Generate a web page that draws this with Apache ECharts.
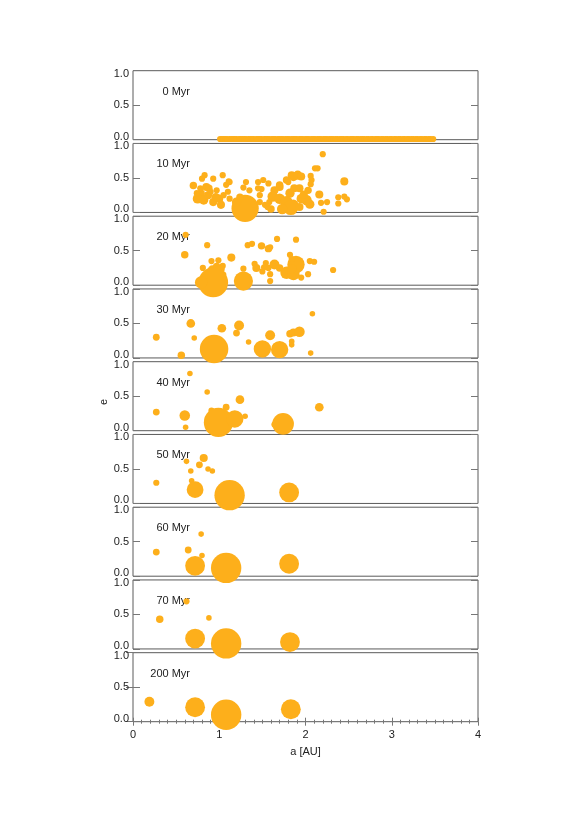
<!DOCTYPE html>
<html>
<head>
<meta charset="utf-8">
<title>Embryo a-e evolution</title>
<script src="https://cdn.jsdelivr.net/npm/echarts@6/dist/echarts.min.js"></script>
<style>
html, body { margin: 0; padding: 0; background: #fff; }
#chart { width: 581px; height: 823px; }
</style>
</head>
<body>
<div id="chart"></div>
<script>
// snapshot labels, one panel each
const times = ['0 Myr', '10 Myr', '20 Myr', '30 Myr', '40 Myr', '50 Myr', '60 Myr', '70 Myr', '200 Myr']

// bodies: [a (AU), e, relative radius]
const p0 = [
    [1.01,0.01,1],[1.03,0.01,1],[1.05,0.01,1],[1.07,0.01,1],[1.09,0.01,1],[1.12,0.01,1],[1.14,0.01,1],[1.16,0.01,1],
    [1.18,0.01,1],[1.20,0.01,1],[1.23,0.01,1],[1.25,0.01,1],[1.27,0.01,1],[1.29,0.01,1],[1.31,0.01,1],[1.34,0.01,1],
    [1.36,0.01,1],[1.38,0.01,1],[1.40,0.01,1],[1.43,0.01,1],[1.45,0.01,1],[1.47,0.01,1],[1.49,0.01,1],[1.52,0.01,1],
    [1.54,0.01,1],[1.56,0.01,1],[1.58,0.01,1],[1.61,0.01,1],[1.63,0.01,1],[1.65,0.01,1],[1.68,0.01,1],[1.70,0.01,1],
    [1.72,0.01,1],[1.74,0.01,1],[1.77,0.01,1],[1.79,0.01,1],[1.81,0.01,1],[1.84,0.01,1],[1.86,0.01,1],[1.88,0.01,1],
    [1.90,0.01,1],[1.93,0.01,1],[1.95,0.01,1],[1.97,0.01,1],[2.00,0.01,1],[2.02,0.01,1],[2.04,0.01,1],[2.07,0.01,1],
    [2.09,0.01,1],[2.11,0.01,1],[2.14,0.01,1],[2.16,0.01,1],[2.18,0.01,1],[2.21,0.01,1],[2.23,0.01,1],[2.25,0.01,1],
    [2.28,0.01,1],[2.30,0.01,1],[2.32,0.01,1],[2.35,0.01,1],[2.37,0.01,1],[2.40,0.01,1],[2.42,0.01,1],[2.44,0.01,1],
    [2.47,0.01,1],[2.49,0.01,1],[2.52,0.01,1],[2.54,0.01,1],[2.56,0.01,1],[2.59,0.01,1],[2.61,0.01,1],[2.64,0.01,1],
    [2.66,0.01,1],[2.68,0.01,1],[2.71,0.01,1],[2.73,0.01,1],[2.76,0.01,1],[2.78,0.01,1],[2.81,0.01,1],[2.83,0.01,1],
    [2.85,0.01,1],[2.88,0.01,1],[2.90,0.01,1],[2.93,0.01,1],[2.95,0.01,1],[2.98,0.01,1],[3.00,0.01,1],[3.03,0.01,1],
    [3.05,0.01,1],[3.08,0.01,1],[3.10,0.01,1],[3.13,0.01,1],[3.15,0.01,1],[3.18,0.01,1],[3.20,0.01,1],[3.23,0.01,1],
    [3.25,0.01,1],[3.28,0.01,1],[3.30,0.01,1],[3.33,0.01,1],[3.35,0.01,1],[3.38,0.01,1],[3.40,0.01,1],[3.43,0.01,1],
    [3.45,0.01,1],[3.48,0.01,1]
]
const p10 = [
    [0.70,0.39,1.2],[0.83,0.54,1],[0.80,0.49,1],[0.93,0.49,1],[1.04,0.54,1],[1.11,0.45,1],[1.08,0.40,1],
    [0.85,0.37,1.3],[0.88,0.35,1.2],[0.79,0.28,1.2],[0.75,0.20,1.6],[0.82,0.18,1.5],[0.87,0.25,1.3],[0.90,0.30,1],
    [0.97,0.32,1],[1.00,0.20,1.3],[1.02,0.11,1.3],[0.93,0.15,1.3],[0.96,0.22,1.4],[1.12,0.44,1],[1.10,0.30,1],
    [1.12,0.20,1],[1.05,0.25,1],[0.78,0.35,1],[0.74,0.28,1],[1.30,0.06,4.4],[1.20,0.15,1.5],[1.24,0.22,1.2],
    [1.31,0.44,1],[1.35,0.32,1],[1.28,0.36,1],[1.45,0.44,1],[1.51,0.47,1],[1.57,0.42,1],[1.45,0.35,1],
    [1.49,0.34,1],[1.47,0.25,1],[1.47,0.15,1],[1.58,0.15,1],[1.53,0.11,1],[1.40,0.12,1],[1.56,0.08,1],
    [1.70,0.40,1.2],[1.70,0.37,1.3],[1.78,0.47,1.2],[1.80,0.44,1],[1.84,0.54,1.3],[1.86,0.52,1.5],[1.91,0.54,1.5],
    [1.95,0.52,1.3],[2.06,0.53,1],[2.07,0.47,1],[2.06,0.41,1],[1.87,0.35,1.3],[1.93,0.35,1.3],[1.82,0.28,1.5],
    [1.64,0.32,1.3],[1.62,0.23,1.7],[1.70,0.20,1.7],[1.78,0.15,2],[1.86,0.11,1.7],[1.83,0.07,2.4],[1.73,0.05,1.7],
    [1.95,0.20,1.5],[2.01,0.18,1.7],[2.03,0.32,1.2],[2.05,0.12,1.5],[1.93,0.08,1.3],[1.98,0.26,1.3],[1.60,0.05,1.2],
    [2.20,0.845,1],[2.11,0.64,1],[2.14,0.64,1],[2.45,0.45,1.3],[2.16,0.26,1.3],[2.18,0.14,1],[2.25,0.15,1],
    [2.21,0.01,1],[2.38,0.22,1],[2.45,0.23,1],[2.48,0.19,1],[2.38,0.13,1]
]
const p20 = [
    [0.61,0.73,1],[0.86,0.58,1],[0.60,0.44,1.2],[1.33,0.58,1],[1.38,0.60,1],[1.49,0.57,1.2],[1.57,0.53,1.2],
    [1.59,0.55,1],[1.67,0.67,1],[1.89,0.66,1],[1.82,0.44,1],[1.14,0.40,1.3],[0.91,0.35,1],[0.99,0.36,1],
    [1.04,0.28,1],[0.81,0.25,1],[0.92,0.22,1.5],[0.97,0.27,1.2],[1.02,0.23,1.2],[1.04,0.15,1.2],[0.87,0.12,1.5],
    [0.93,0.04,4.8],[0.79,0.04,2],[1.28,0.06,3.1],[1.28,0.24,1],[1.41,0.31,1],[1.43,0.25,1.3],[1.54,0.32,1],
    [1.57,0.25,1],[1.59,0.16,1],[1.59,0.06,1],[1.64,0.30,1.6],[1.70,0.25,1.2],[1.78,0.18,2],[1.86,0.16,2],
    [1.89,0.30,2.8],[1.84,0.24,1.5],[1.95,0.11,1],[2.05,0.35,1],[2.10,0.34,1],[2.03,0.16,1],[2.32,0.22,1],
    [1.50,0.20,1],[1.52,0.26,1],[1.84,0.38,1]
]
const p30 = [
    [0.27,0.30,1.1],[0.56,0.04,1.2],[0.67,0.50,1.4],[0.71,0.29,0.9],[0.94,0.13,4.6],[1.03,0.43,1.4],
    [1.23,0.47,1.6],[1.20,0.36,1.1],[1.34,0.23,0.9],[1.50,0.13,2.8],[1.59,0.33,1.6],[1.70,0.12,2.8],
    [1.82,0.35,1.2],[1.86,0.37,1.3],[1.93,0.38,1.7],[1.84,0.24,0.9],[1.84,0.19,0.9],[2.08,0.64,0.9],[2.06,0.07,0.9]
]
const p40 = [
    [0.66,0.83,0.9],[0.86,0.56,0.9],[0.27,0.27,1.1],[0.60,0.22,1.7],[0.61,0.05,0.9],[0.91,0.29,1.0],
    [1.08,0.34,1.1],[1.24,0.45,1.4],[1.30,0.21,0.9],[1.64,0.09,1.0],[0.99,0.12,4.7],[1.18,0.17,2.8],
    [1.74,0.10,3.5],[2.16,0.34,1.4]
]
const p50 = [
    [0.27,0.30,1.0],[0.62,0.61,0.9],[0.67,0.47,0.9],[0.68,0.33,0.9],[0.77,0.56,1.1],[0.82,0.66,1.3],
    [0.87,0.50,0.9],[0.92,0.47,0.9],[0.72,0.20,2.7],[1.12,0.12,4.9],[1.81,0.16,3.2]
]
const p60 = [
    [0.79,0.61,0.9],[0.27,0.35,1.1],[0.64,0.38,1.1],[0.80,0.30,0.9],[0.72,0.15,3.2],[1.08,0.12,4.9],[1.81,0.18,3.2]
]
const p70 = [
    [0.62,0.69,1.0],[0.31,0.43,1.2],[0.88,0.45,0.9],[0.72,0.15,3.2],[1.08,0.08,4.9],[1.82,0.10,3.2]
]
const p200 = [
    [0.19,0.29,1.6],[0.72,0.21,3.2],[1.08,0.10,4.9],[1.83,0.18,3.2]
]
const panels = [p0, p10, p20, p30, p40, p50, p60, p70, p200]

const frameColor = '#5a5a5a'
const tickColor = '#777'
const textColor = '#222'
const dotColor = '#FDAF1B'
const font = 'Liberation Sans'

const chart = echarts.init(document.getElementById('chart'))
const n = times.length
const top0 = 70.7
const step = 72.75
const h = 69

const grid = []
const xAxis = []
const yAxis = []
const series = []
const graphic = []

for (let i = 0; i < n; i++) {
    const last = i === n - 1
    const top = top0 + i * step
    grid.push({ left: 133, width: 345, top: top, height: h, show: true, borderColor: frameColor, borderWidth: 1 })
    // bottom x axis (only visible on the last panel)
    xAxis.push({
        gridIndex: i, type: 'value', min: 0, max: 4, interval: 1, show: last,
        axisLine: { show: false },
        axisTick: { inside: true, length: 4, lineStyle: { color: tickColor } },
        minorTick: { show: true, splitNumber: 10, length: 2, lineStyle: { color: tickColor } },
        splitLine: { show: false },
        axisLabel: { fontSize: 11, color: textColor, fontFamily: font, margin: 8 },
        name: last ? 'a [AU]' : '', nameLocation: 'middle', nameGap: 25,
        nameTextStyle: { fontSize: 11, color: textColor, fontFamily: font }
    })
    yAxis.push({
        gridIndex: i, type: 'value', min: 0, max: 1, interval: 0.5,
        axisLine: { show: false },
        axisTick: { inside: true, length: 7, lineStyle: { color: tickColor } },
        splitLine: { show: false },
        axisLabel: {
            fontSize: 11, color: textColor, fontFamily: font, margin: 4, lineHeight: 6,
            verticalAlignMinLabel: 'bottom', verticalAlignMaxLabel: 'top',
            formatter: v => v.toFixed(1)
        }
    })
    series.push({
        type: 'scatter', xAxisIndex: i, yAxisIndex: i, data: panels[i],
        symbolSize: v => v[2] * 6.2,
        itemStyle: { color: dotColor, opacity: 1 },
        clip: false, silent: true
    })
    graphic.push({
        type: 'text', x: 190, y: top + 21,
        style: { text: times[i], fill: textColor, font: '11px "' + font + '"', textAlign: 'right', textVerticalAlign: 'middle' }
    })
}
// right-hand y ticks
for (let i = 0; i < n; i++) {
    yAxis.push({
        gridIndex: i, type: 'value', position: 'right', min: 0, max: 1, interval: 0.5,
        axisLine: { show: false },
        axisTick: { inside: true, length: 7, lineStyle: { color: tickColor } },
        axisLabel: { show: false },
        splitLine: { show: false }
    })
}
// top ticks on the bottom panel
xAxis.push({
    gridIndex: n - 1, type: 'value', position: 'top', min: 0, max: 4, interval: 1,
    axisLine: { show: false },
    axisTick: { inside: true, length: 4, lineStyle: { color: tickColor } },
    minorTick: { show: true, splitNumber: 10, length: 2, lineStyle: { color: tickColor } },
    axisLabel: { show: false },
    splitLine: { show: false }
})
graphic.push({
    type: 'text', x: 104, y: 402, rotation: Math.PI / 2,
    style: { text: 'e', fill: textColor, font: '11px "' + font + '"', textAlign: 'center', textVerticalAlign: 'middle' }
})

chart.setOption({
    animation: false,
    backgroundColor: '#fff',
    grid: grid,
    xAxis: xAxis,
    yAxis: yAxis,
    series: series,
    graphic: graphic
})
</script>
</body>
</html>
